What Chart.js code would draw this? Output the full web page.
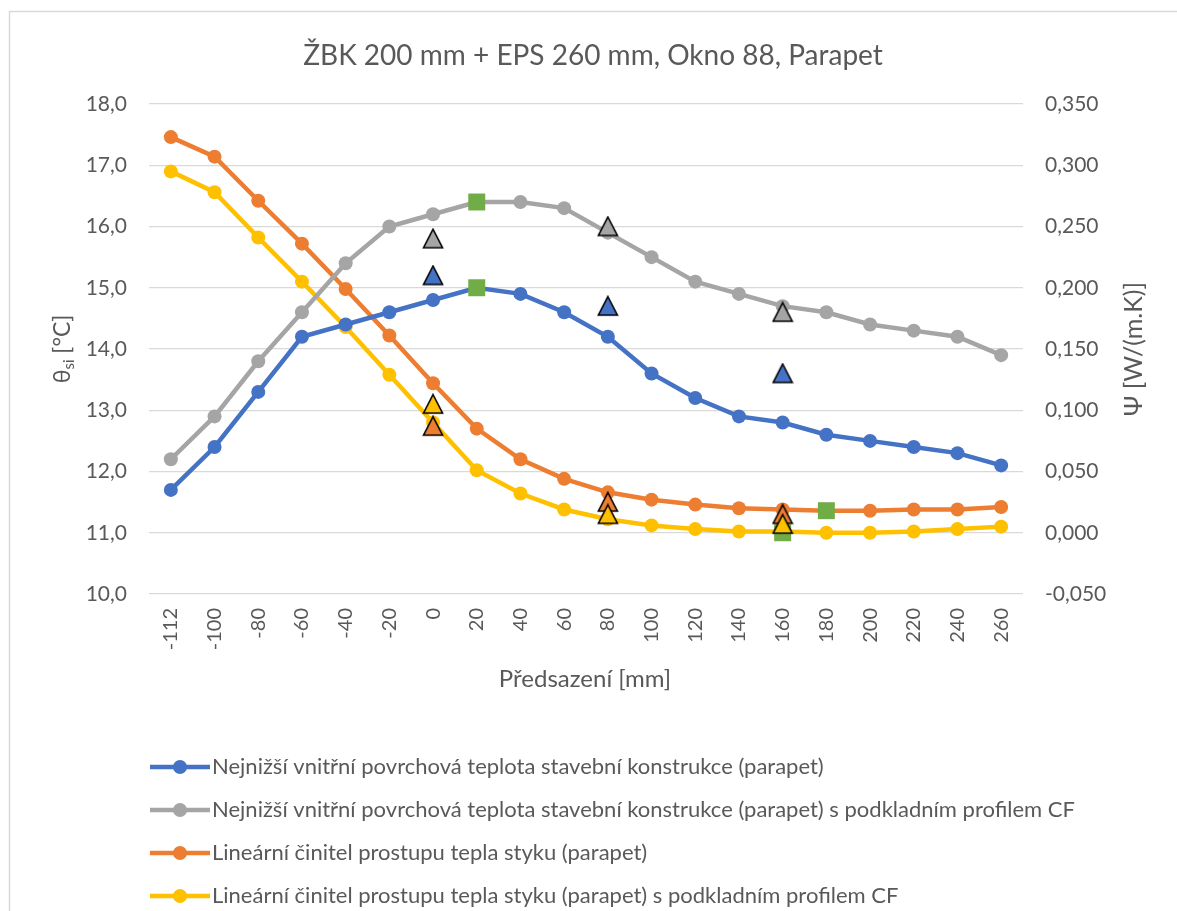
<!DOCTYPE html>
<html>
<head>
<meta charset="utf-8">
<script src="https://cdn.jsdelivr.net/npm/chart.js@4.4.1/dist/chart.umd.min.js"></script>
<style>
  html, body { margin: 0; padding: 0; background: #ffffff; }
  #wrap { position: relative; width: 1177px; height: 911px; }
</style>
</head>
<body>
<div id="wrap"><canvas id="c" width="1177" height="911"></canvas></div>
<script>
// Offset of the window from the facade [mm]
const categories = ['-112', '-100', '-80', '-60', '-40', '-20', '0', '20', '40', '60',
                    '80', '100', '120', '140', '160', '180', '200', '220', '240', '260'];

// Lowest inner surface temperature [°C]
const tempParapet = [11.7, 12.4, 13.3, 14.2, 14.4, 14.6, 14.8, 15.0, 14.9, 14.6,
                     14.2, 13.6, 13.2, 12.9, 12.8, 12.6, 12.5, 12.4, 12.3, 12.1];
const tempParapetCF = [12.2, 12.9, 13.8, 14.6, 15.4, 16.0, 16.2, 16.4, 16.4, 16.3,
                       15.9, 15.5, 15.1, 14.9, 14.7, 14.6, 14.4, 14.3, 14.2, 13.9];

// Linear thermal transmittance of the joint [W/(m.K)]
const psiParapet = [0.323, 0.307, 0.271, 0.236, 0.199, 0.161, 0.122, 0.085, 0.060, 0.044,
                    0.033, 0.027, 0.023, 0.020, 0.019, 0.018, 0.018, 0.019, 0.019, 0.021];
const psiParapetCF = [0.295, 0.278, 0.241, 0.205, 0.168, 0.129, 0.090, 0.051, 0.032, 0.019,
                      0.011, 0.006, 0.003, 0.001, 0.001, 0.000, 0.000, 0.001, 0.003, 0.005];

// Single reference variants (triangles) at offsets 0, 80 and 160 mm
const refOffsets = ['0', '80', '160'];
const refTemp = [15.2, 14.7, 13.6];
const refTempCF = [15.8, 16.0, 14.6];
const refPsi = [0.087, 0.025, 0.015];
const refPsiCF = [0.105, 0.015, 0.007];

// Optimum points (green squares)
const optTempOffsets = ['20', '20'];
const optTempValues = [16.4, 15.0];
const optPsiOffsets = ['160', '180'];
const optPsiValues = [0.000, 0.018];

// Axis ranges and tick steps
const leftAxis = { min: 10, max: 18, step: 1 };
const rightAxis = { min: -0.05, max: 0.35, step: 0.05 };

const seriesNames = [
  'Nejnižší vnitřní povrchová teplota stavební konstrukce (parapet)',
  'Nejnižší vnitřní povrchová teplota stavební konstrukce (parapet) s podkladním profilem CF',
  'Lineární činitel prostupu tepla styku (parapet)',
  'Lineární činitel prostupu tepla styku (parapet) s podkladním profilem CF'
];
const titleText = 'ŽBK 200 mm + EPS 260 mm, Okno 88, Parapet';
const xTitleText = 'Předsazení [mm]';

const BLUE = '#4472C4', GRAY = '#A5A5A5', ORANGE = '#ED7D31', YELLOW = '#FFC000', GREEN = '#70AD47';
const TEXT = '#595959';
const FONT = 'Lato';

const pairs = (xs, ys) => xs.map((x, i) => ({ x: x, y: ys[i] }));

// Outlined triangle marker, centred on its box
function triangleImage(fill) {
  const size = 22;
  const c = document.createElement('canvas');
  c.width = size; c.height = size;
  const g = c.getContext('2d');
  g.fillStyle = fill;
  g.strokeStyle = '#000000';
  g.lineWidth = 1.6;
  g.lineJoin = 'miter';
  g.beginPath();
  g.moveTo(size / 2, 1.5);
  g.lineTo(size - 1.5, size - 2);
  g.lineTo(1.5, size - 2);
  g.closePath();
  g.fill();
  g.stroke();
  return c;
}

function lineSet(label, data, color, axis) {
  return {
    label: label, data: data, yAxisID: axis,
    borderColor: color, backgroundColor: color,
    borderWidth: 4.5, pointRadius: 7, pointHoverRadius: 7,
    pointBorderWidth: 0, pointBackgroundColor: color,
    tension: 0, order: 0
  };
}
function triangleSet(data, color, axis, order) {
  return {
    label: '', data: data, yAxisID: axis, showLine: false,
    pointStyle: triangleImage(color), pointRadius: 11,
    backgroundColor: color, borderColor: '#000000', order: order
  };
}
function squareSet(data, axis) {
  return {
    label: '', data: data, yAxisID: axis, showLine: false,
    pointStyle: 'rect', pointRadius: 12, pointHoverRadius: 12,
    pointBackgroundColor: GREEN, backgroundColor: GREEN,
    pointBorderWidth: 0, borderColor: GREEN, order: -2
  };
}

// Title, axis titles, legend and frame drawn onto the canvas
const decorations = {
  id: 'decorations',
  beforeDraw(chart) {
    const ctx = chart.ctx;
    ctx.save();
    ctx.strokeStyle = '#D9D9D9';
    ctx.lineWidth = 1.5;
    ctx.beginPath();
    ctx.moveTo(9.5, 911);
    ctx.lineTo(9.5, 11.5);
    ctx.lineTo(1177, 11.5);
    ctx.stroke();
    ctx.restore();
  },
  afterDraw(chart) {
    const ctx = chart.ctx;
    const area = chart.chartArea;
    const midY = (area.top + area.bottom) / 2;
    ctx.save();
    ctx.fillStyle = TEXT;

    // chart title
    ctx.font = `28px ${FONT}`;
    ctx.textAlign = 'center';
    ctx.textBaseline = 'middle';
    ctx.fillText(titleText, 593, 56);

    // x axis title
    ctx.font = `24px ${FONT}`;
    ctx.fillText(xTitleText, 585, 679);

    // left axis title with subscript
    ctx.save();
    ctx.translate(62, midY);
    ctx.rotate(-Math.PI / 2);
    const big = `23px ${FONT}`, small = `15px ${FONT}`;
    ctx.font = big; const wTheta = ctx.measureText('θ').width;
    ctx.font = small; const wSub = ctx.measureText('si').width;
    ctx.font = big; const wRest = ctx.measureText(' [°C]').width;
    let x0 = -(wTheta + wSub + wRest) / 2;
    ctx.textAlign = 'left';
    ctx.textBaseline = 'alphabetic';
    ctx.font = big; ctx.fillText('θ', x0, 8);
    ctx.font = small; ctx.fillText('si', x0 + wTheta, 12);
    ctx.font = big; ctx.fillText(' [°C]', x0 + wTheta + wSub, 8);
    ctx.restore();

    // right axis title
    ctx.save();
    ctx.translate(1134, midY);
    ctx.rotate(-Math.PI / 2);
    ctx.font = `25px ${FONT}`;
    ctx.textAlign = 'center';
    ctx.textBaseline = 'middle';
    ctx.fillText('Ψ [W/(m.K)]', 0, 0);
    ctx.restore();

    // legend
    const rows = [767, 810, 853, 896];
    ctx.font = `22px ${FONT}`;
    ctx.textAlign = 'left';
    ctx.textBaseline = 'middle';
    for (let i = 0; i < 4; i++) {
      const ds = chart.data.datasets[i];
      const y = rows[i];
      ctx.strokeStyle = ds.borderColor;
      ctx.lineWidth = 4.5;
      ctx.beginPath();
      ctx.moveTo(150, y);
      ctx.lineTo(210, y);
      ctx.stroke();
      ctx.fillStyle = ds.borderColor;
      ctx.beginPath();
      ctx.arc(180, y, 7, 0, Math.PI * 2);
      ctx.fill();
      ctx.fillStyle = TEXT;
      ctx.fillText(seriesNames[i], 212, y);
    }
    ctx.restore();
  }
};

const fmt = (v, d) => {
  const n = Math.abs(v) < 1e-9 ? 0 : Number(v);
  return n.toFixed(d).replace('.', ',');
};

new Chart(document.getElementById('c'), {
  type: 'line',
  data: {
    labels: categories,
    datasets: [
      lineSet(seriesNames[0], tempParapet, BLUE, 'y'),
      lineSet(seriesNames[1], tempParapetCF, GRAY, 'y'),
      lineSet(seriesNames[2], psiParapet, ORANGE, 'y1'),
      lineSet(seriesNames[3], psiParapetCF, YELLOW, 'y1'),
      triangleSet(pairs(refOffsets, refTemp), BLUE, 'y', -3),
      triangleSet(pairs(refOffsets, refTempCF), GRAY, 'y', -3),
      triangleSet(pairs(refOffsets, refPsi), ORANGE, 'y1', -3),
      triangleSet(pairs(refOffsets, refPsiCF), YELLOW, 'y1', -4),
      squareSet(pairs(optTempOffsets, optTempValues), 'y'),
      squareSet(pairs(optPsiOffsets, optPsiValues), 'y1')
    ]
  },
  options: {
    responsive: false,
    animation: false,
    events: [],
    layout: { padding: { top: 104, bottom: 217, left: 0, right: 0 } },
    plugins: { legend: { display: false }, title: { display: false }, tooltip: { enabled: false } },
    scales: {
      x: {
        type: 'category',
        offset: true,
        grid: { display: false, drawTicks: false },
        border: { display: false },
        ticks: {
          autoSkip: false, minRotation: 90, maxRotation: 90, padding: 14,
          color: TEXT, font: { family: FONT, size: 20 }
        },
        afterFit(scale) { scale.height = 100; }
      },
      y: {
        position: 'left',
        min: leftAxis.min, max: leftAxis.max,
        grid: { color: '#D9D9D9', lineWidth: 1.2, drawTicks: false },
        border: { display: false },
        ticks: {
          stepSize: leftAxis.step, padding: 22, color: TEXT,
          font: { family: FONT, size: 21 },
          callback: (v) => fmt(v, 1)
        },
        afterFit(scale) { scale.width = 149; }
      },
      y1: {
        position: 'right',
        min: rightAxis.min, max: rightAxis.max,
        grid: { display: false, drawTicks: false },
        border: { display: false },
        ticks: {
          stepSize: rightAxis.step, padding: 22, color: TEXT,
          font: { family: FONT, size: 21 },
          callback: (v) => fmt(v, 3)
        },
        afterFit(scale) { scale.width = 154; }
      }
    }
  },
  plugins: [decorations]
});
</script>
</body>
</html>
